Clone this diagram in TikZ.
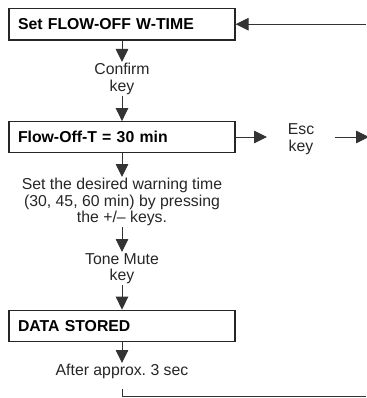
\documentclass[tikz,border=0pt]{standalone}
\usepackage{fontspec}
\setmainfont{Liberation Sans}
\frenchspacing
\usetikzlibrary{arrows.meta}
\begin{document}
\begin{tikzpicture}[x=1pt,y=-1pt,
  every node/.style={font=\fontsize{15.8}{16.5}\selectfont},
  stepbox/.style={draw=black!85, line width=1.2pt, minimum width=226pt, minimum height=31.5pt,
    text width=208pt, inner xsep=9pt, inner ysep=0pt, align=left, font=\fontsize{15.8}{16.5}\selectfont\bfseries},
  lbl/.style={align=center, inner xsep=0pt, inner ysep=1pt, text=black!85},
  flow/.style={draw=black!80, line width=0.9pt, -{Triangle[length=13pt,width=12.5pt]}},
  plain/.style={draw=black!80, line width=0.9pt}]
\useasboundingbox (0,0) rectangle (366,398);
\node[stepbox] (b1) at (122,24.2) {Set FLOW-OFF W-TIME};
\node[stepbox, minimum height=30.6pt] (b2) at (122,137) {Flow-Off-T = 30 min};
\node[stepbox] (b3) at (122,326) {DATA STORED};
\node[lbl, anchor=north] (confirm) at (122,62) {Confirm\\key};
\node[lbl, anchor=north] (set) at (122,177) {Set the desired warning time\\(30, 45, 60 min) by pressing\\the +/– keys.};
\node[lbl, anchor=north] (tone) at (122,252) {Tone Mute\\key};
\node[lbl, anchor=north] (after) at (122,363) {After approx. 3 sec};
\node[lbl] (esc) at (301,139) {Esc\\key};
\coordinate (topin) at (366,24.2);
\coordinate (escin) at (267,137);
\coordinate (escfrom) at (335,137);
\coordinate (escout) at (369,137);
\coordinate (retstart) at (122,389);
\coordinate (retcorner) at (122,396);
\coordinate (retend) at (366,396);
\draw[flow] (topin) -- (b1.east);
\draw[flow] (b1.south) -- (confirm.north);
\draw[flow] (confirm.south) -- (b2.north);
\draw[flow] (b2.south) -- (set.north);
\draw[flow] (set.south) -- (tone.north);
\draw[flow] (tone.south) -- (b3.north);
\draw[flow] (b3.south) -- (after.north);
\draw[flow] (b2.east |- escin) -- (escin);
\draw[flow] (escfrom) -- (escout);
\draw[plain] (retstart) -- (retcorner) -- (retend);
\end{tikzpicture}
\end{document}
